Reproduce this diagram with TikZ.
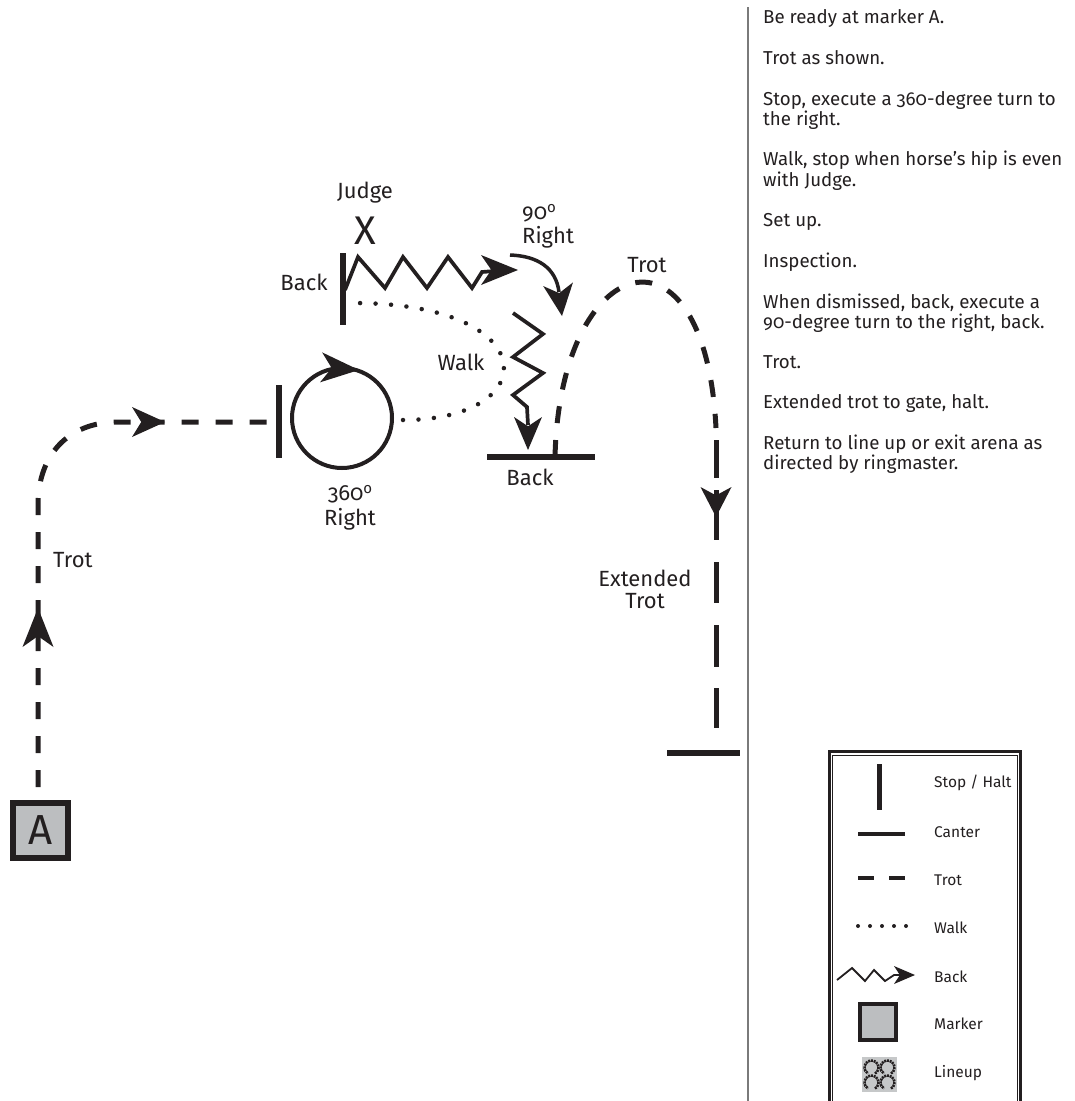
\documentclass[tikz,border=0pt]{standalone}
\usepackage{fontspec}
\setmainfont[Numbers=OldStyle]{Fira Sans}
\definecolor{ink}{HTML}{231F20}
\definecolor{mgray}{HTML}{BCBEC0}
\definecolor{rulegray}{HTML}{7A7A7A}
\newcommand\degsup{\raisebox{0.6ex}{\fontsize{15}{15}\selectfont o}}
\tikzset{
  pics/ahead/.style 2 args={code={\fill[ink] (0,0) -- (-#1pt,#2pt) -- (-0.72*#1pt,0pt) -- (-#1pt,-#2pt) -- cycle;}},
  trotline/.style={draw=ink, line width=5pt, dash pattern=on 17pt off 17pt},
  extline/.style={draw=ink, line width=5pt},
  walkline/.style={draw=ink, line width=4.5pt, line cap=round, dash pattern=on 0pt off 15.5pt},
  zigline/.style={draw=ink, line width=3.7pt, line join=miter},
  stopbar/.style={draw=ink, line width=6pt},
  lbl/.style={text=ink, font=\fontsize{22}{24}\selectfont, inner sep=0pt},
  txt/.style={text=ink, font=\fontsize{18.7}{20}\selectfont, anchor=base west, inner sep=0pt},
  leg/.style={text=ink, font=\fontsize{15.5}{17}\selectfont, anchor=west, inner sep=0pt},
}
\begin{document}
\begin{tikzpicture}[x=1pt,y=-1pt]
\useasboundingbox (0,0) rectangle (1075,1101);

% ---------- divider and legend frame ----------
\draw[rulegray, line width=1.5pt] (748,7) -- (748,1101);
\draw[ink, line width=3pt] (829.5,1101) -- (829.5,751.5) -- (1020.5,751.5) -- (1020.5,1101);
\draw[ink, line width=1pt] (832.5,1101) -- (832.5,755.5) -- (1017.5,755.5) -- (1017.5,1101);

% ---------- marker A and first trot ----------
\node[draw=ink, line width=6pt, fill=mgray, minimum size=55pt, inner sep=0pt,
      text=ink, font=\fontsize{42}{42}\selectfont] (A) at (40.5,830) {A};
\coordinate (s1) at (38,787);
\coordinate (c1) at (38,505);
\coordinate (h1) at (118,422);
\coordinate (e1) at (274,422);
\draw[trotline] (s1) -- (c1) .. controls (38,455) and (68,422) .. (h1) -- (e1);
\pic[rotate=90] at (38,608) {ahead={39}{15.5}};
\pic at (165,422) {ahead={33}{15}};
\node[lbl, anchor=west] (trot1) at (53,560) {Trot};

% stop bar and 360 circle
\draw[stopbar] (279,385) -- (279,458);
\node[draw=ink, line width=4pt, circle, minimum size=100pt, inner sep=0pt] (circ) at (342,418) {};
\pic[rotate=-4] at (359,370) {ahead={38}{15}};
\node[lbl, anchor=base] (l360) at (350,500) {360\degsup};
\node[lbl, anchor=base] (r360) at (350,525) {Right};

% walk
\coordinate (w1) at (403,420);
\coordinate (w2) at (353,303);
\draw[walkline] (w1) .. controls (545,420) and (545,303) .. (w2);
\node[lbl] (walk) at (461,362) {Walk};

% judge and back
\node[lbl] (judge) at (365,193) {Judge};
\node[text=ink, inner sep=0pt, font=\fontsize{40}{40}\selectfont] (X) at (365,231) {X};
\draw[stopbar] (343,253) -- (343,325);
\node[lbl] (back1) at (304,282) {Back};
\draw[zigline] (345,290) -- (358,257) -- (385,288) -- (403,257) -- (427,288) -- (448,257) -- (472,288) -- (482,272) -- (495,271);
\pic at (518,270) {ahead={37}{15}};

% 90 right
\node[lbl, anchor=base west] (n90) at (522,219) {90\degsup};
\node[lbl, anchor=base west] (r90) at (522,243) {Right};
\draw[draw=ink, line width=3.5pt] (510,255) .. controls (538,256) and (556,268) .. (559,292);
\pic[rotate=-83] at (562,316) {ahead={32}{15}};

% back down
\draw[zigline] (513,313) -- (543,334) -- (513,357) -- (543,373) -- (513,395) -- (527,407) -- (528,425);
\pic[rotate=-90] at (528,450) {ahead={33}{14}};
\draw[stopbar] (487,457) -- (595,457);
\node[lbl] (back2) at (530,477) {Back};

% trot arch
\coordinate (t1) at (555,457);
\coordinate (t2) at (716,428);
\draw[trotline] (t1) .. controls (560,250) and (705,210) .. (t2);
\node[lbl] (trot2) at (647,265) {Trot};

% extended trot
\draw[extline] (716,440) -- (716,478);
\draw[extline] (716,490) -- (716,540);
\draw[extline] (716,562) -- (716,603);
\draw[extline] (716,625) -- (716,667);
\draw[extline] (716,688) -- (716,728);
\pic[rotate=-90] at (716,517) {ahead={30}{15.5}};
\node[lbl, align=center, font=\fontsize{22}{22}\selectfont] (ext) at (645,589) {Extended\\Trot};
\draw[stopbar] (667,753) -- (740,753);

% ---------- instructions ----------
\node[txt] (i1) at (763,23) {Be ready at marker A.};
\node[txt] (i2) at (763,64) {Trot as shown.};
\node[txt] (i3) at (763,105) {Stop, execute a 360-degree turn to};
\node[txt] (i3b) at (763,125) {the right.};
\node[txt] (i4) at (763,165) {Walk, stop when horse{\char"0027}s hip is even};
\node[txt] (i4b) at (763,186) {with Judge.};
\node[txt] (i5) at (763,226) {Set up.};
\node[txt] (i6) at (763,267) {Inspection.};
\node[txt] (i7) at (763,308) {When dismissed, back, execute a};
\node[txt] (i7b) at (763,328) {90-degree turn to the right, back.};
\node[txt] (i8) at (763,368) {Trot.};
\node[txt] (i9) at (763,408) {Extended trot to gate, halt.};
\node[txt] (i10) at (763,449) {Return to line up or exit arena as};
\node[txt] (i10b) at (763,469) {directed by ringmaster.};

% ---------- legend ----------
\draw[ink, line width=5pt] (879,764) -- (879,810);
\node[leg] (lg1) at (934,783) {Stop / Halt};
\draw[ink, line width=4pt] (858,834) -- (905,834);
\node[leg] (lg2) at (934,832) {Canter};
\draw[ink, line width=4.5pt] (858,878) -- (874,878);
\draw[ink, line width=4.5pt] (889,878) -- (905,878);
\node[leg] (lg3) at (934,880) {Trot};
\foreach \k in {0,...,4} \fill[ink] (858+12*\k,926) circle[radius=2pt];
\node[leg] (lg4) at (934,928) {Walk};
\draw[ink, line width=1.8pt, line join=miter] (837,980) -- (852,968) -- (865,981) -- (874,970) -- (885,981) -- (894,975) -- (902,975);
\pic at (915,975) {ahead={21}{9}};
\node[leg] (lg5) at (934,977) {Back};
\draw[ink, line width=4pt, fill=mgray] (860,1004) rectangle (896,1040);
\node[leg] (lg6) at (934,1024) {Marker};
\fill[mgray!85] (862,1057) rectangle (897,1092);
\foreach \cx/\cy in {871.5/1067.5, 887.5/1067.5, 871.5/1082.5, 887.5/1082.5}
  \draw[ink, line width=2.6pt, dash pattern=on 2pt off 0.8pt] (\cx,\cy) ++(-60:7pt) arc[start angle=-60, end angle=240, radius=7pt];
\node[leg] (lg7) at (934,1073) {Lineup};
\end{tikzpicture}
\end{document}
